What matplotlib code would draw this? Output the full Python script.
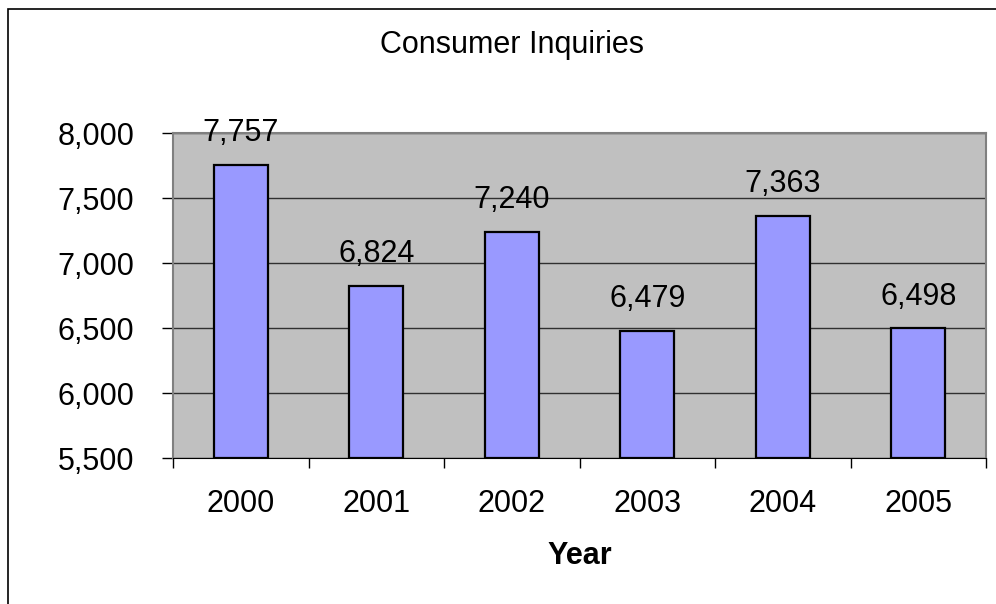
import matplotlib
matplotlib.use("Agg")
import matplotlib.pyplot as plt
from matplotlib.patches import Rectangle
from matplotlib.ticker import FuncFormatter, FixedLocator

years = ["2000", "2001", "2002", "2003", "2004", "2005"]
inquiries = [7757, 6824, 7240, 6479, 7363, 6498]
yticks = [5500, 6000, 6500, 7000, 7500, 8000]

plt.rcParams['font.family'] = ['Liberation Sans', 'DejaVu Sans']
FS = 22

fig = plt.figure(figsize=(9.96, 6.04), dpi=100)
fig.patch.set_facecolor('white')

# outer chart border
fig.patches.append(Rectangle((7.5/996, -0.05), 1.2, (604-9)/604 + 0.05, transform=fig.transFigure,
                             fill=False, edgecolor='black', linewidth=1.2, clip_on=False))

ax = fig.add_axes([173/996, (604-458)/604, (986-173)/996, (458-133)/604])
ax.set_facecolor('#c0c0c0')

x = list(range(len(years)))
ax.bar(x, [v - 5500 for v in inquiries], bottom=5500, width=0.4, color='#9999ff',
       edgecolor='black', linewidth=1.6, zorder=3)

ax.set_xlim(-0.5, len(years) - 0.5)
ax.set_ylim(5500, 8000)
ax.set_yticks(yticks)
ax.yaxis.set_major_formatter(FuncFormatter(lambda v, p: f"{int(v):,}"))
ax.grid(axis='y', color='#303030', linewidth=1.0, zorder=1)

ax.set_xticks(x)
ax.set_xticklabels(years)
ax.xaxis.set_minor_locator(FixedLocator([i - 0.5 for i in range(len(years) + 1)]))
ax.tick_params(axis='x', which='major', length=0, pad=22, labelsize=FS)
ax.tick_params(axis='x', which='minor', length=7.5, width=1, direction='out', color='black')
ax.tick_params(axis='y', length=8, width=1, direction='out', labelsize=FS, pad=20, color='black')

for s in ['top', 'right', 'left']:
    ax.spines[s].set_color('#808080')
    ax.spines[s].set_linewidth(1.5)
ax.spines['bottom'].set_color('black')

for xi, v in zip(x, inquiries):
    ax.annotate(f"{v:,}", (xi, v), xytext=(0, 17), textcoords='offset points',
                ha='center', va='baseline', fontsize=FS, zorder=4, annotation_clip=False)

ax.set_xlabel("Year", fontsize=FS, fontweight='bold', va='top')
ax.xaxis.set_label_coords(0.5, -0.255)
fig.text(512/996, 1 - 45/604, "Consumer Inquiries", ha='center', va='center', fontsize=FS)

fig.savefig("out.png", dpi=100)
